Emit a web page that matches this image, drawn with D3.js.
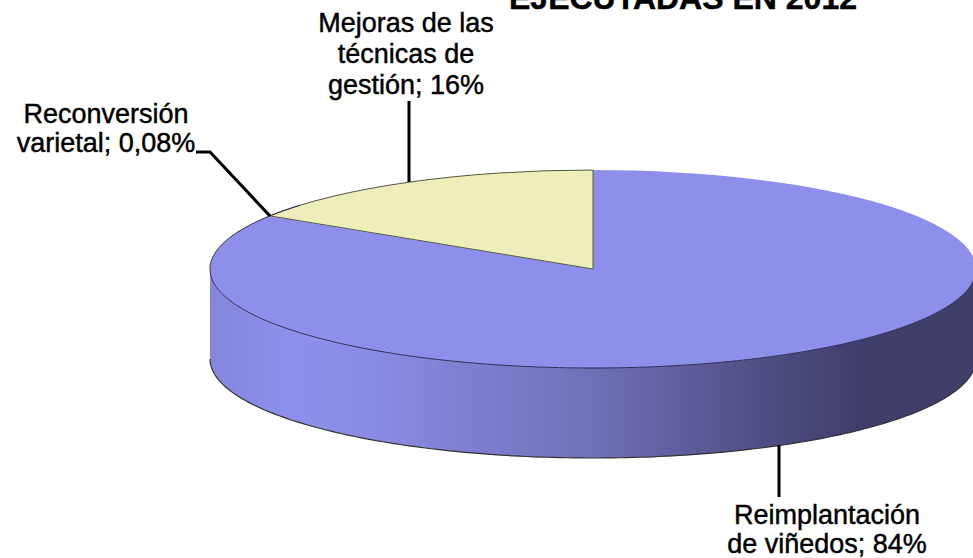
<!DOCTYPE html>
<html><head><meta charset="utf-8">
<script src="https://cdnjs.cloudflare.com/ajax/libs/d3/7.8.5/d3.min.js"></script>
<style>html,body{margin:0;padding:0;background:#fff}svg{display:block}
text{font-family:"Liberation Sans",Arial,sans-serif;fill:#000;stroke:#000;stroke-width:.45px}</style>
</head><body><svg width="973" height="558"></svg>
<script>
const categories = ["Reimplantación de viñedos", "Reconversión varietal", "Mejoras de las técnicas de gestión"];
const values = [84, 0.08, 16];
const colors = ["#8e8fea", "#8e8fea", "#eeeebb"];
const titleText = "EJECUTADAS EN 2012";
const labelLines = [
  ["Reimplantación", "de viñedos; 84%"],
  ["Reconversión", "varietal; 0,08%"],
  ["Mejoras de las", "técnicas de", "gestión; 16%"]
];
const W = 973, H = 558;
const cx = 593, cy = 269, rx = 383, ry = 99, depth = 90;
const svg = d3.select("svg");
const defs = svg.append("defs");
const grad = defs.append("linearGradient").attr("id","side").attr("gradientUnits","userSpaceOnUse")
  .attr("x1",cx-rx).attr("x2",cx+rx).attr("y1",0).attr("y2",0);
[[0,"#8485dc"],[0.1,"#8e8fec"],[0.2,"#8b8ce6"],[0.5,"#7070b8"],[0.72,"#4f4e85"],[0.85,"#3f3e69"],[1,"#3f3e67"]]
  .forEach(([o,c])=>grad.append("stop").attr("offset",o).attr("stop-color",c));

const arc = d3.arc().innerRadius(0).outerRadius(rx);
const pie = d3.pie().sort(null).value(d=>d).startAngle(0).endAngle(2*Math.PI);
const arcs = pie(values);
const deg = d3.range(0,181).map(d=>d*Math.PI/180);

// Depth wall
svg.append("path")
  .attr("d", d3.area().x(d=>cx+rx*Math.cos(d)).y0(d=>cy+ry*Math.sin(d)).y1(d=>cy+depth+ry*Math.sin(d))(deg))
  .attr("fill","url(#side)");
svg.append("path")
  .attr("d", d3.line().x(d=>cx+rx*Math.cos(d)).y(d=>cy+depth+ry*Math.sin(d))(deg))
  .attr("fill","none").attr("stroke","#333").attr("stroke-width",1.2);

// Top face
const topFace = svg.append("g").attr("transform",`translate(${cx},${cy}) scale(1,${ry/rx})`);
topFace.selectAll("path").data(arcs).join("path")
  .attr("d",arc).attr("fill",(d,i)=>colors[i])
  .attr("stroke",(d,i)=>i===2?"#55553f":"none").attr("stroke-width",1)
  .style("vector-effect","non-scaling-stroke");

// Front and left rim of the top face
const rim = d3.range(0,221).map(d=>d*Math.PI/180);
svg.append("path")
  .attr("d", d3.line().x(d=>cx+rx*Math.cos(d)).y(d=>cy+ry*Math.sin(d))(rim))
  .attr("fill","none").attr("stroke","#2c2c55").attr("stroke-width",1);

const leaders = [
  [[779,445],[779,497]],
  [[196,152],[210,152],[270,216]],
  [[409,182],[409,101]]
];
const line = d3.line();
svg.selectAll("path.leader").data(leaders).join("path").attr("class","leader")
  .attr("d",line).attr("fill","none").attr("stroke","#000").attr("stroke-width",3);

// Labels
const fs = 27;
const anchors = [[827,524],[106,123],[406,32]];
const lh = [29,29,31];
svg.selectAll("g.lab").data(labelLines).join("g").attr("class","lab")
 .each(function(lines,i){
   d3.select(this).selectAll("text").data(lines).join("text")
    .attr("x",anchors[i][0]).attr("y",(d,j)=>anchors[i][1]+j*lh[i])
    .attr("text-anchor","middle").attr("font-size",fs).text(d=>d);
 });
svg.append("text").attr("x",683).attr("y",9).attr("text-anchor","middle")
  .attr("font-size",32).attr("font-weight","bold").text(titleText);
</script></body></html>
